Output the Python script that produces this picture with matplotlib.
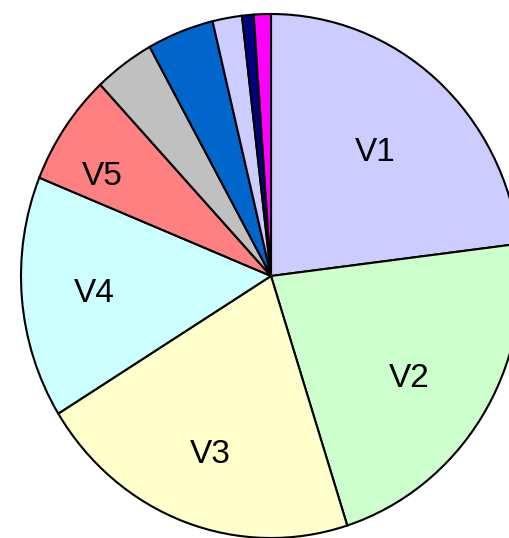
import numpy as np
import matplotlib.pyplot as plt

# slice shares (percent), read clockwise from 12 o'clock
labels = ['V1', 'V2', 'V3', 'V4', 'V5', '', '', '', '', '']
values = [23.0, 22.0, 21.1, 14.9, 6.9, 3.9, 4.3, 1.9, 0.75, 1.1]
colors = ['#CCCCFF', '#CCFFCC', '#FFFFCC', '#CCFFFF', '#FF8080',
          '#C0C0C0', '#0066CC', '#CCCCFF', '#000080', '#FF00FF']

# label placement inside each slice (distance from centre, angle nudge in degrees)
label_dist = [0.64, 0.67, 0.71, 0.71, 0.78]
label_nudge = [0.6, -1.7, 0.4, -0.4, 4.2]

plt.rcParams['font.family'] = ['Liberation Sans', 'DejaVu Sans']

fig = plt.figure(figsize=(5.09, 5.38), dpi=100)
ax = fig.add_axes([0, 0, 1, 1])

wedges, _ = ax.pie(values, colors=colors,
                   startangle=90, counterclock=False,
                   wedgeprops=dict(edgecolor='black', linewidth=1.5))

for w, lab, r, d in zip(wedges, labels, label_dist, label_nudge):
    ang = np.deg2rad((w.theta1 + w.theta2) / 2 + d)
    ax.text(r * np.cos(ang), r * np.sin(ang), lab, fontsize=24,
            ha='center', va='center_baseline')

# the pie in the original is slightly taller than wide and cropped on the right/bottom
ax.set_aspect('auto')
ax.set_xlim(-1.084, 0.952)
ax.set_ylim(-1.0, 1.0534)
ax.axis('off')

fig.savefig('out.png', dpi=100)
